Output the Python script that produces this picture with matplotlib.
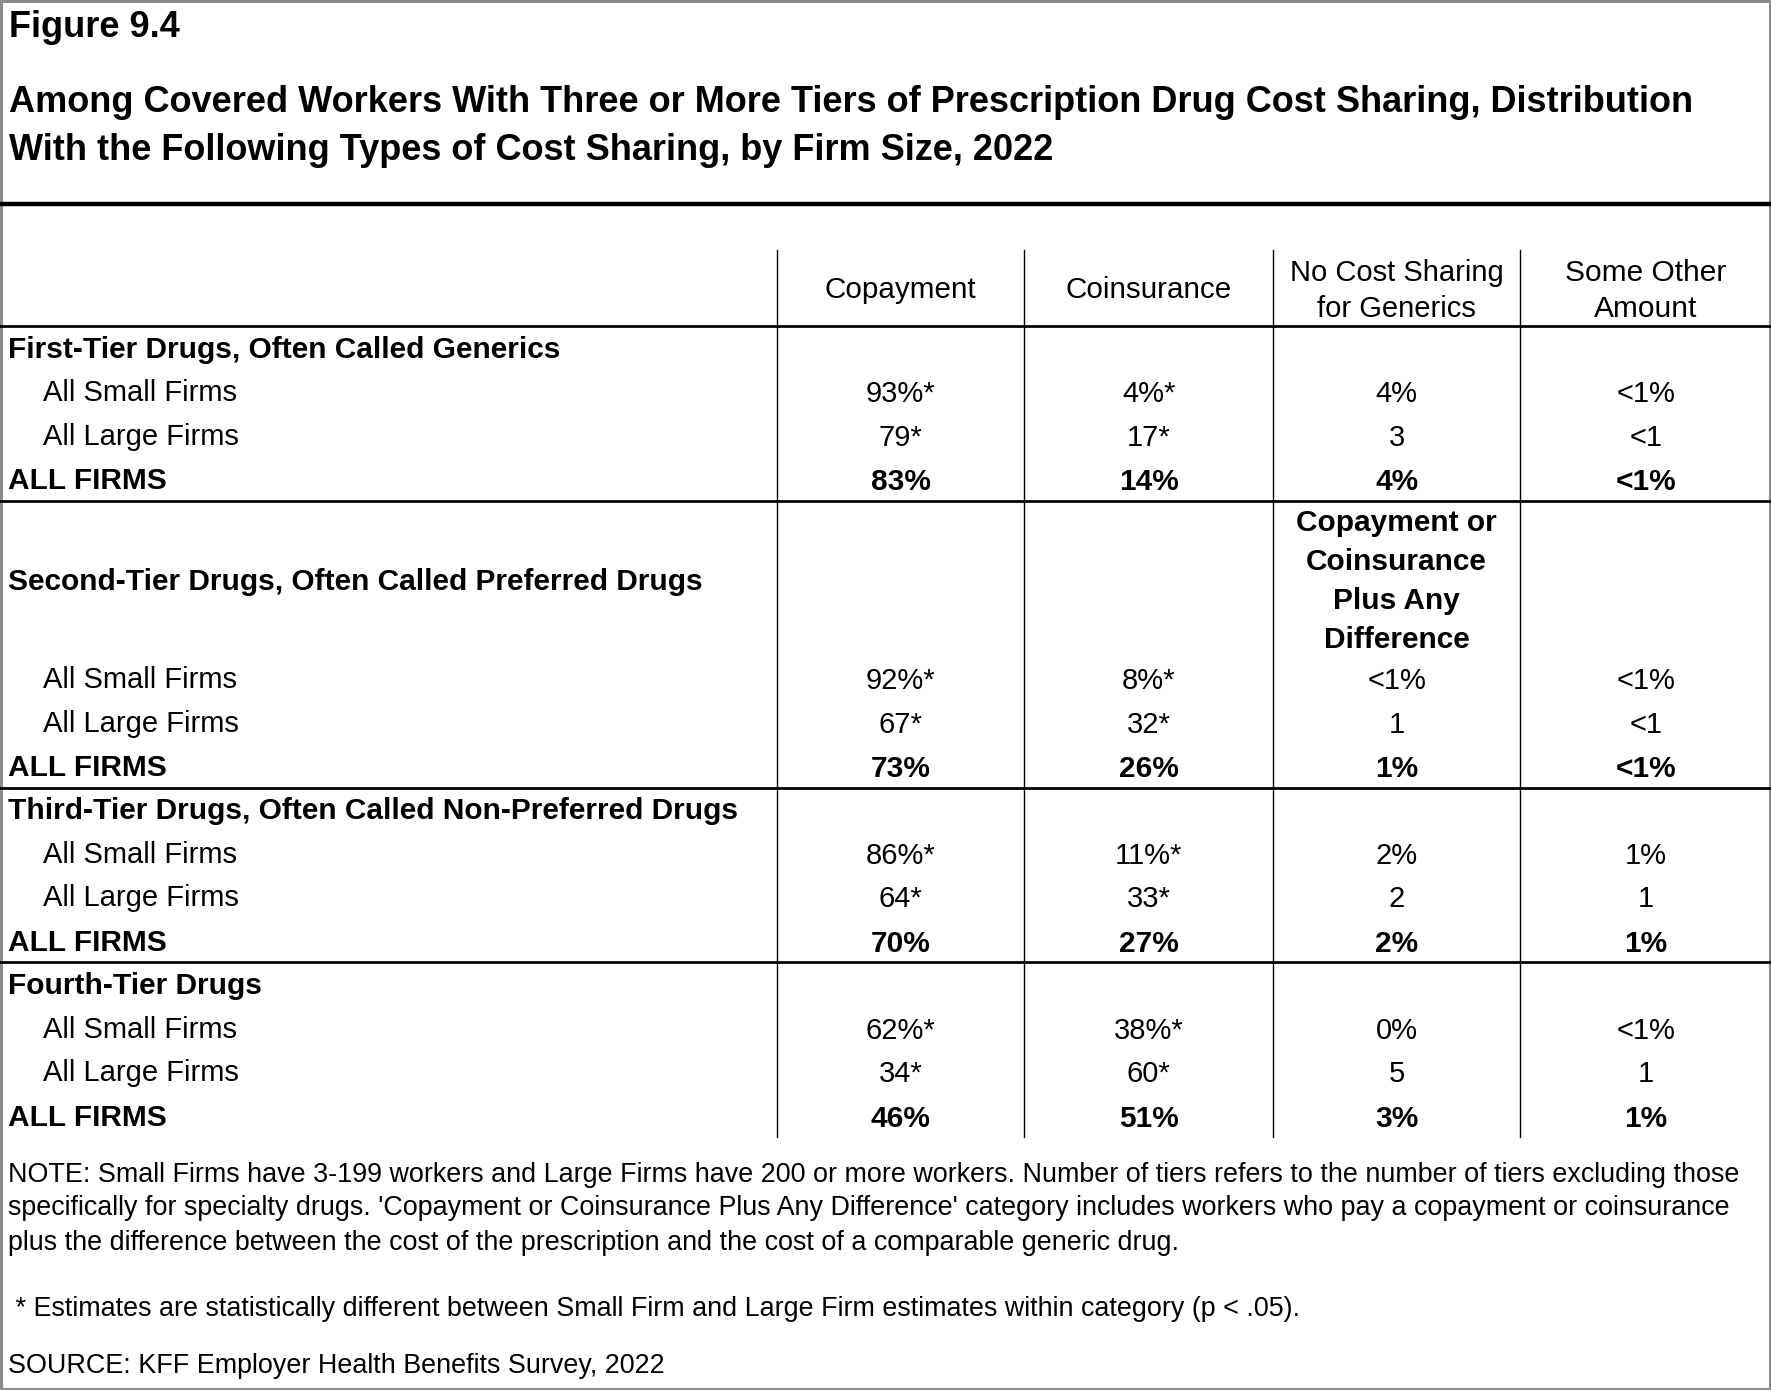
import matplotlib
matplotlib.use("Agg")
import matplotlib.pyplot as plt
from matplotlib.lines import Line2D
from matplotlib.patches import Rectangle

plt.rcParams['font.family'] = ['Liberation Sans', 'DejaVu Sans']

fig_title = "Figure 9.4"
title_lines = ["Among Covered Workers With Three or More Tiers of Prescription Drug Cost Sharing, Distribution",
               "With the Following Types of Cost Sharing, by Firm Size, 2022"]
col_headers = ["Copayment", "Coinsurance", "No Cost Sharing\nfor Generics", "Some Other\nAmount"]
sections = ["First-Tier Drugs, Often Called Generics",
            "Second-Tier Drugs, Often Called Preferred Drugs",
            "Third-Tier Drugs, Often Called Non-Preferred Drugs",
            "Fourth-Tier Drugs"]
second_tier_col3_header = "Copayment or\nCoinsurance\nPlus Any\nDifference"
row_labels = ["All Small Firms", "All Large Firms", "ALL FIRMS"]
tier1 = [["93%*", "4%*", "4%", "<1%"], ["79*", "17*", "3", "<1"], ["83%", "14%", "4%", "<1%"]]
tier2 = [["92%*", "8%*", "<1%", "<1%"], ["67*", "32*", "1", "<1"], ["73%", "26%", "1%", "<1%"]]
tier3 = [["86%*", "11%*", "2%", "1%"], ["64*", "33*", "2", "1"], ["70%", "27%", "2%", "1%"]]
tier4 = [["62%*", "38%*", "0%", "<1%"], ["34*", "60*", "5", "1"], ["46%", "51%", "3%", "1%"]]
tiers = [tier1, tier2, tier3, tier4]
notes = ["NOTE: Small Firms have 3-199 workers and Large Firms have 200 or more workers. Number of tiers refers to the number of tiers excluding those",
         "specifically for specialty drugs. 'Copayment or Coinsurance Plus Any Difference' category includes workers who pay a copayment or coinsurance",
         "plus the difference between the cost of the prescription and the cost of a comparable generic drug."]
star_note = " * Estimates are statistically different between Small Firm and Large Firm estimates within category (p < .05)."
source = "SOURCE: KFF Employer Health Benefits Survey, 2022"

W, H = 1568, 1232
fig = plt.figure(figsize=(17.71, 13.90), dpi=100)
ax = fig.add_axes([0, 0, 1, 1])
ax.set_xlim(0, W)
ax.set_ylim(H, 0)
ax.axis('off')

# outer border
ax.add_patch(Rectangle((0.8, 0.8), W - 1.6, H - 1.6, fill=False, edgecolor='#8c8c8c', lw=2.2))

TFS = 26
ax.text(8, 24, fig_title, fontsize=TFS, fontweight='bold', va='center', ha='left')
ax.text(8, 91, title_lines[0], fontsize=TFS, fontweight='bold', va='center', ha='left')
ax.text(8, 133, title_lines[1], fontsize=TFS, fontweight='bold', va='center', ha='left')

ax.add_line(Line2D([0, W], [181, 181], color='black', lw=3.2))

col_x = [688, 907, 1127, 1346, W]
col_c = [(col_x[i] + col_x[i + 1]) / 2 for i in range(4)]
for x in col_x[:4]:
    ax.add_line(Line2D([x, x], [222, 1008], color='black', lw=1.0))
for y in [289, 444, 698, 853]:
    ax.add_line(Line2D([0, W], [y, y], color='black', lw=2.0))

FS = 21
FSB = 21.5
# headers
ax.text(col_c[0], 257, col_headers[0], fontsize=21.3, ha='center', va='center')
ax.text(col_c[1], 257, col_headers[1], fontsize=21.3, ha='center', va='center')
ax.text(col_c[2], 258, col_headers[2], fontsize=21.0, ha='center', va='center', linespacing=1.38)
ax.text(col_c[3], 258, col_headers[3], fontsize=21.5, ha='center', va='center', linespacing=1.34)

sec_y = [310, 516, 719, 874]
row_y = [[348, 387, 426], [603, 642, 681], [758, 796, 836], [913, 951, 991]]
for s, sy, ry, data in zip(sections, sec_y, row_y, tiers):
    ax.text(7, sy, s, fontsize=FSB, fontweight='bold', ha='left', va='center')
    for i, (lab, y) in enumerate(zip(row_labels, ry)):
        bold = (i == 2)
        ax.text(38 if not bold else 7, y, lab, fontsize=FSB if bold else FS, ha='left', va='center',
                fontweight='bold' if bold else 'normal')
        for c, v in zip(col_c, data[i]):
            ax.text(c, y + 1, v, fontsize=FSB if bold else FS, ha='center', va='center',
                    fontweight='bold' if bold else 'normal')

ax.text(col_c[2], 515, second_tier_col3_header, fontsize=FSB, fontweight='bold',
        ha='center', va='center', linespacing=1.5)

NFS = 19.4
for y, n in zip([1041, 1071, 1102], notes):
    ax.text(7, y, n, fontsize=NFS, ha='left', va='center')
ax.text(7, 1160, star_note, fontsize=NFS, ha='left', va='center')
ax.text(7, 1211, source, fontsize=NFS, ha='left', va='center')

fig.savefig("out.png", dpi=100)
